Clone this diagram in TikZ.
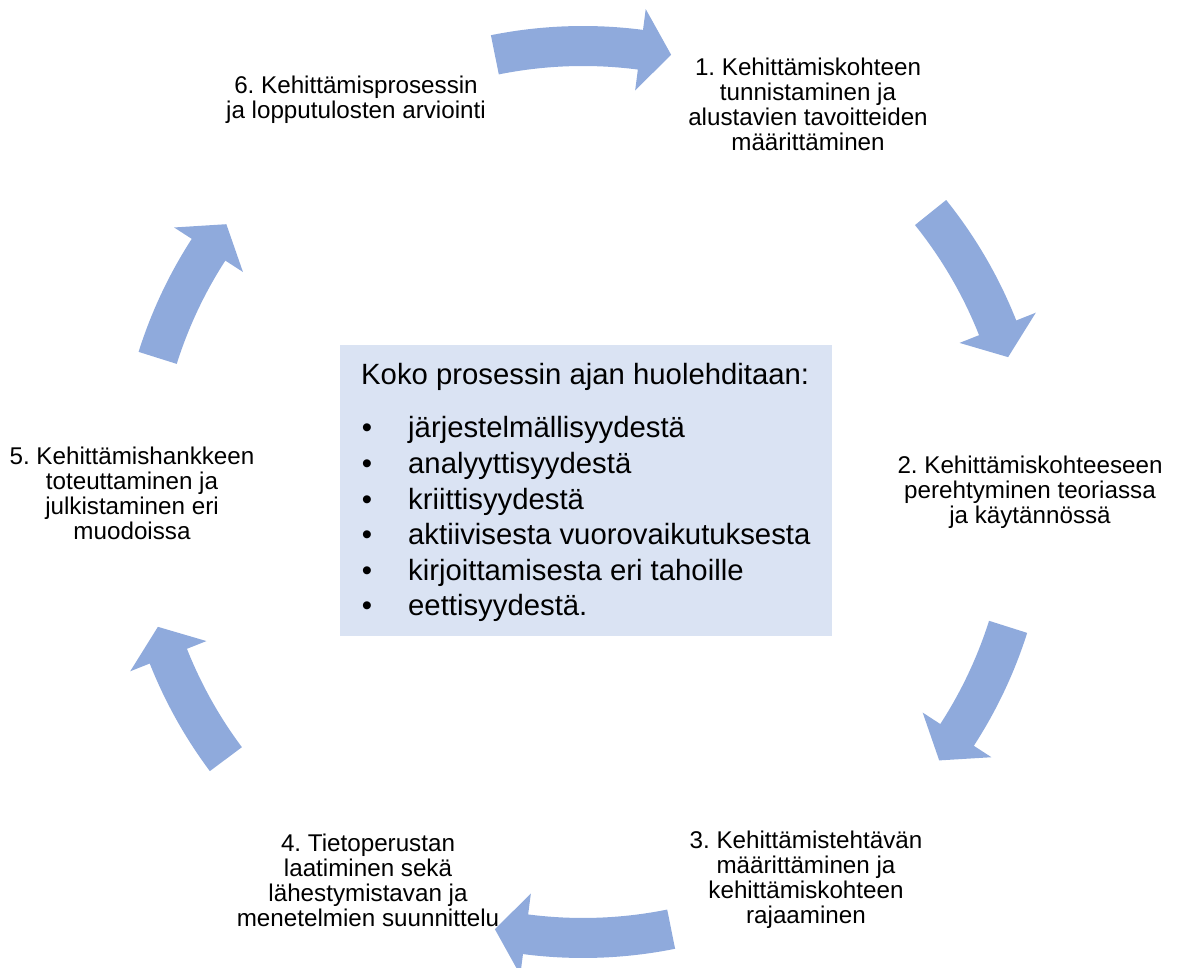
\documentclass[tikz,border=0pt]{standalone}
\usepackage{fontspec}
\setmainfont{Liberation Sans}
\frenchspacing
\definecolor{arrowblue}{HTML}{8FAADC}
\definecolor{boxblue}{HTML}{DAE3F3}

% Curved block arrow on the cycle circle: #1 tail angle, #2 tip angle (runs clockwise)
\newcommand{\cyclearrow}[2]{%
  \pgfmathsetmacro{\headbase}{#2+4}
  \fill[arrowblue] (#1:426) arc[start angle=#1, end angle=\headbase, radius=426]
    -- (\headbase:405) -- (#2:446) -- (\headbase:487) -- (\headbase:466)
    arc[start angle=\headbase, end angle=#1, radius=466] -- cycle;
}

\tikzset{
  steplabel/.style={align=center, inner sep=0pt, font=\fontsize{24.2}{25}\selectfont},
  boxtext/.style={inner sep=0pt, font=\fontsize{29.3}{35}\selectfont},
}

\begin{document}
\begin{tikzpicture}[x=1pt, y=1pt]
\useasboundingbox (0,0) rectangle (1178,968);

% cycle arrows around the centre
\begin{scope}[shift={(583,476)}]
  \cyclearrow{101.4}{78.6}
  \cyclearrow{38.8}{17.6}
  \cyclearrow{-17.6}{-37.0}
  \cyclearrow{-78.6}{-101.4}
  \cyclearrow{-143.2}{-162.4}
  \cyclearrow{162.5}{143.1}
\end{scope}

% phase labels
\node[steplabel] (s1) at (808,864) {1. Kehittämiskohteen\\tunnistaminen ja\\alustavien tavoitteiden\\määrittäminen};
\node[steplabel] (s2) at (1030,476) {2. Kehittämiskohteeseen\\perehtyminen teoriassa\\ja käytännössä};
\node[steplabel] (s3) at (806,88) {3. Kehittämistehtävän\\määrittäminen ja\\kehittämiskohteen\\rajaaminen};
\node[steplabel] (s4) at (368,88) {4. Tietoperustan\\laatiminen sekä\\lähestymistavan ja\\menetelmien suunnittelu};
\node[steplabel] (s5) at (132,475) {5. Kehittämishankkeen\\toteuttaminen ja\\julkistaminen eri\\muodoissa};
\node[steplabel] (s6) at (356,868) {6. Kehittämisprosessin\\ja lopputulosten arviointi};

% central box
\node[fill=boxblue, inner sep=0pt, minimum width=492, minimum height=291, anchor=south west] (box) at (340,332) {};
\node[boxtext, anchor=base west] (title) at (361,583) {Koko prosessin ajan huolehditaan:};
\foreach \item [count=\i] in {järjestelmällisyydestä, analyyttisyydestä, kriittisyydestä, aktiivisesta vuorovaikutuksesta, kirjoittamisesta eri tahoille, eettisyydestä.}{
  \pgfmathsetmacro{\yy}{530-35.6*(\i-1)}
  \node[boxtext, anchor=base] (dot\i) at (367,\yy) {•};
  \node[boxtext, anchor=base west] (item\i) at (408,\yy) {\item};
}
\end{tikzpicture}
\end{document}
